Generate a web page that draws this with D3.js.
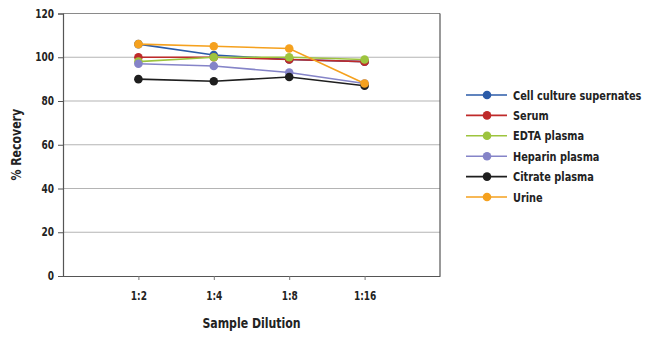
<!DOCTYPE html>
<html>
<head>
<meta charset="utf-8">
<script src="https://cdn.jsdelivr.net/npm/d3@7"></script>
<style>
  body { margin: 0; background: #fff; }
  text { font-family: "Liberation Sans Narrow", "DejaVu Sans Condensed", "DejaVu Sans", sans-serif; font-stretch: condensed; font-weight: bold; fill: #222; }
</style>
</head>
<body>
<svg id="chart" width="650" height="341"></svg>
<script>
// chart data
var dilutions = ["1:2", "1:4", "1:8", "1:16"];
var seriesNames = ["Cell culture supernates", "Serum", "EDTA plasma", "Heparin plasma", "Citrate plasma", "Urine"];
var seriesColors = ["#2b5ba8", "#bf2a2a", "#9dc43e", "#8584c8", "#1e1e1e", "#f5a11e"];
var cellCulture = [106, 101, 99, 98];
var serum = [100, 100, 99, 98];
var edta = [98, 100, 100, 99];
var heparin = [97, 96, 93, 88];
var citrate = [90, 89, 91, 87];
var urine = [106, 105, 104, 88];
var yTicks = [0, 20, 40, 60, 80, 100, 120];

var allSeries = [cellCulture, serum, edta, heparin, citrate, urine];

var svg = d3.select("#chart");
var plotLeft = 63, plotRight = 440, plotTop = 13.5, plotBottom = 276;
var squeeze = 0.87;  // no condensed font here, so narrow the text by hand

// narrow text horizontally (along its own baseline), keeping its x anchor
function condense(sel) {
  sel.each(function() {
    var t = d3.select(this);
    var x0 = +t.attr("x") || 0;
    var prev = t.attr("transform") || "";
    t.attr("transform", prev + " translate(" + (x0 * (1 - squeeze)) + ",0) scale(" + squeeze + ",1)");
  });
}

var x = d3.scalePoint().domain(dilutions).range([plotLeft, plotRight]).padding(1);
var y = d3.scaleLinear().domain([0, 120]).range([plotBottom, plotTop]);

// gridlines
svg.append("g").selectAll("line").data(yTicks.filter(function(d){ return d > 0 && d < 120; }))
  .enter().append("line")
  .attr("x1", plotLeft).attr("x2", plotRight)
  .attr("y1", function(d){ return y(d); }).attr("y2", function(d){ return y(d); })
  .attr("stroke", "#b4b4b4").attr("stroke-width", 1.2);

// frame
svg.append("line").attr("x1", plotLeft).attr("x2", plotRight).attr("y1", plotTop).attr("y2", plotTop)
  .attr("stroke", "#8a8a8a").attr("stroke-width", 1.2);
svg.append("line").attr("x1", plotRight).attr("x2", plotRight).attr("y1", plotTop).attr("y2", plotBottom)
  .attr("stroke", "#555").attr("stroke-width", 1.2);

// y axis
var yAxis = svg.append("g").attr("transform", "translate(" + plotLeft + ",0)")
  .call(d3.axisLeft(y).tickValues(yTicks).tickSize(5).tickPadding(4));
yAxis.select(".domain").attr("stroke", "#555").attr("stroke-width", 1.2);
yAxis.selectAll(".tick line").attr("stroke", "#555");
yAxis.selectAll("text").style("font-size", "11.5px").attr("fill", "#222").call(condense);

// x axis
var xAxis = svg.append("g").attr("transform", "translate(0," + plotBottom + ")")
  .call(d3.axisBottom(x).tickSize(4).tickPadding(12).tickSizeOuter(0));
xAxis.select(".domain").attr("stroke", "#555").attr("stroke-width", 1.2);
xAxis.selectAll(".tick line").attr("stroke", "#777");
xAxis.selectAll("text").style("font-size", "11.5px").attr("fill", "#222").call(condense);

// axis titles
svg.append("text").attr("transform", "translate(21," + ((plotTop + plotBottom) / 2) + ") rotate(-90)")
  .attr("text-anchor", "middle").style("font-size", "14px").text("% Recovery").call(condense);
svg.append("text").attr("x", (plotLeft + plotRight) / 2).attr("y", 328)
  .attr("text-anchor", "middle").style("font-size", "14px").text("Sample Dilution").call(condense);

// series lines
var line = d3.line().x(function(d, i){ return x(dilutions[i]); }).y(function(d){ return y(d); });

allSeries.forEach(function(s, k) {
  var g = svg.append("g");
  g.append("path").datum(s).attr("d", line)
    .attr("fill", "none").attr("stroke", seriesColors[k]).attr("stroke-width", 1.6);
  g.selectAll("circle").data(s).enter().append("circle")
    .attr("cx", function(d, i){ return x(dilutions[i]); })
    .attr("cy", function(d){ return y(d); })
    .attr("r", 4.3)
    .attr("fill", seriesColors[k]);
});

// legend
var legend = svg.append("g").attr("transform", "translate(466,95)");
var rows = legend.selectAll("g").data(seriesNames).enter().append("g")
  .attr("transform", function(d, i){ return "translate(0," + (i * 20.4) + ")"; });
rows.append("line").attr("x1", 0).attr("x2", 41).attr("y1", 0).attr("y2", 0)
  .attr("stroke", function(d, i){ return seriesColors[i]; }).attr("stroke-width", 1.6);
rows.append("circle").attr("cx", 21).attr("cy", 0).attr("r", 4.3)
  .attr("fill", function(d, i){ return seriesColors[i]; });
rows.append("text").attr("x", 47).attr("y", 4.5).style("font-size", "12.5px")
  .text(function(d){ return d; }).call(condense);
</script>
</body>
</html>
